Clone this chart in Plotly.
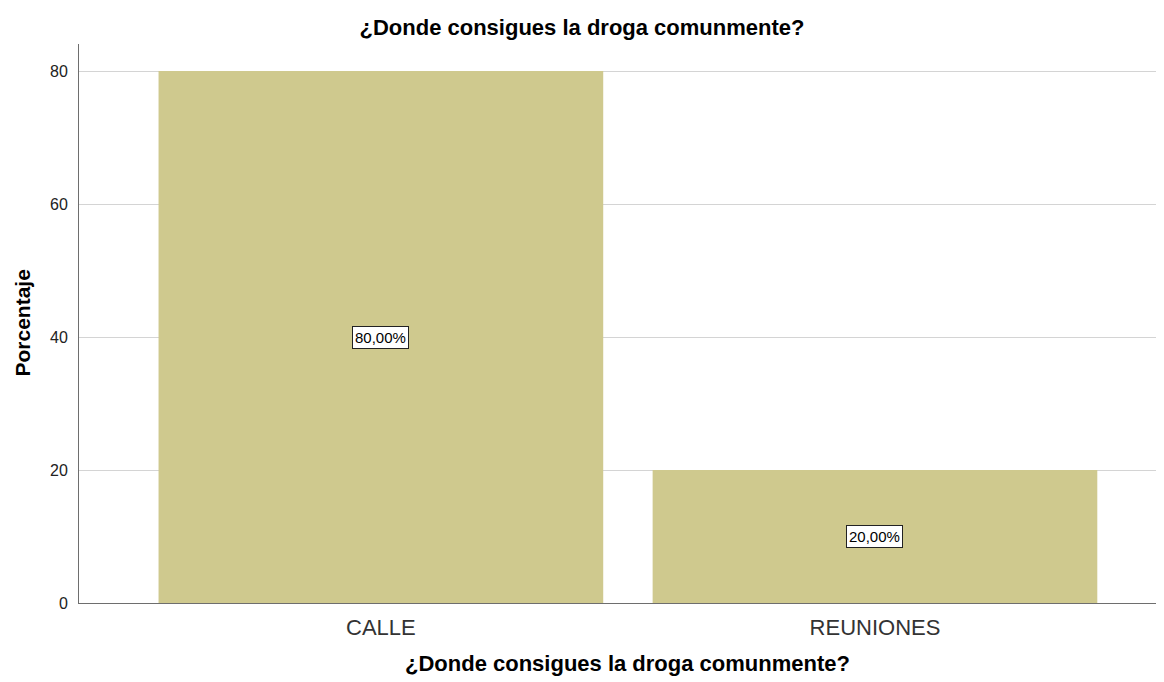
import plotly.graph_objects as go

categories = ["CALLE", "REUNIONES"]
values = [80.0, 20.0]
labels = ["80,00%", "20,00%"]
y_ticks = [0, 20, 40, 60, 80]

title = "¿Donde consigues la droga comunmente?"
y_title = "Porcentaje"

W, H = 1156, 674
L, R, T, B = 71, 0, 36, 79

fig = go.Figure()
fig.add_trace(go.Bar(
    x=[0, 1], y=values, width=0.9,
    marker=dict(color="#cfc98e", line=dict(width=0)),
    hoverinfo="skip",
))

for i, (v, t) in enumerate(zip(values, labels)):
    fig.add_annotation(
        x=i, y=v / 2, text=t, showarrow=False,
        font=dict(family="Arial", size=15, color="#000000"),
        bgcolor="#ffffff", bordercolor="#222222", borderwidth=1, borderpad=2,
    )

# axis titles
fig.add_annotation(
    x=0.5, y=0, xref="paper", yref="paper", xanchor="center", yanchor="middle",
    xshift=6, yshift=-60, text="<b>" + title + "</b>", showarrow=False,
    font=dict(family="Arial", size=22, color="#000000"),
)
fig.add_annotation(
    x=0, y=0.5, xref="paper", yref="paper", xanchor="center", yanchor="middle",
    xshift=-57, textangle=-90, text="<b>" + y_title + "</b>", showarrow=False,
    font=dict(family="Arial", size=21, color="#000000"),
)

fig.update_layout(
    width=W, height=H,
    margin=dict(l=L, r=R, t=T, b=B),
    paper_bgcolor="#ffffff", plot_bgcolor="#ffffff",
    showlegend=False,
    title=dict(text="<b>" + title + "</b>", x=574 / W, xanchor="center",
               xref="container",
               y=1 - 19 / H, yanchor="middle",
               font=dict(family="Arial", size=22, color="#000000")),
    font=dict(family="Arial", color="#000000"),
)
fig.update_xaxes(
    range=[-0.611, 1.585],
    tickmode="array", tickvals=[0, 1], ticktext=categories,
    tickfont=dict(family="Arial", size=22, color="#333333"),
    showgrid=False, zeroline=False,
    showline=True, linecolor="#6e6e6e", linewidth=1,
    ticks="", ticklabelstandoff=5,
)
fig.update_yaxes(
    range=[0, 84.06],
    tickmode="array", tickvals=y_ticks,
    tickfont=dict(family="Arial", size=16, color="#222222"),
    showgrid=True, gridcolor="#d4d4d4", gridwidth=1,
    zeroline=False,
    showline=True, linecolor="#6e6e6e", linewidth=1,
    ticks="", ticklabelstandoff=7,
)

fig.write_html("out.html")
